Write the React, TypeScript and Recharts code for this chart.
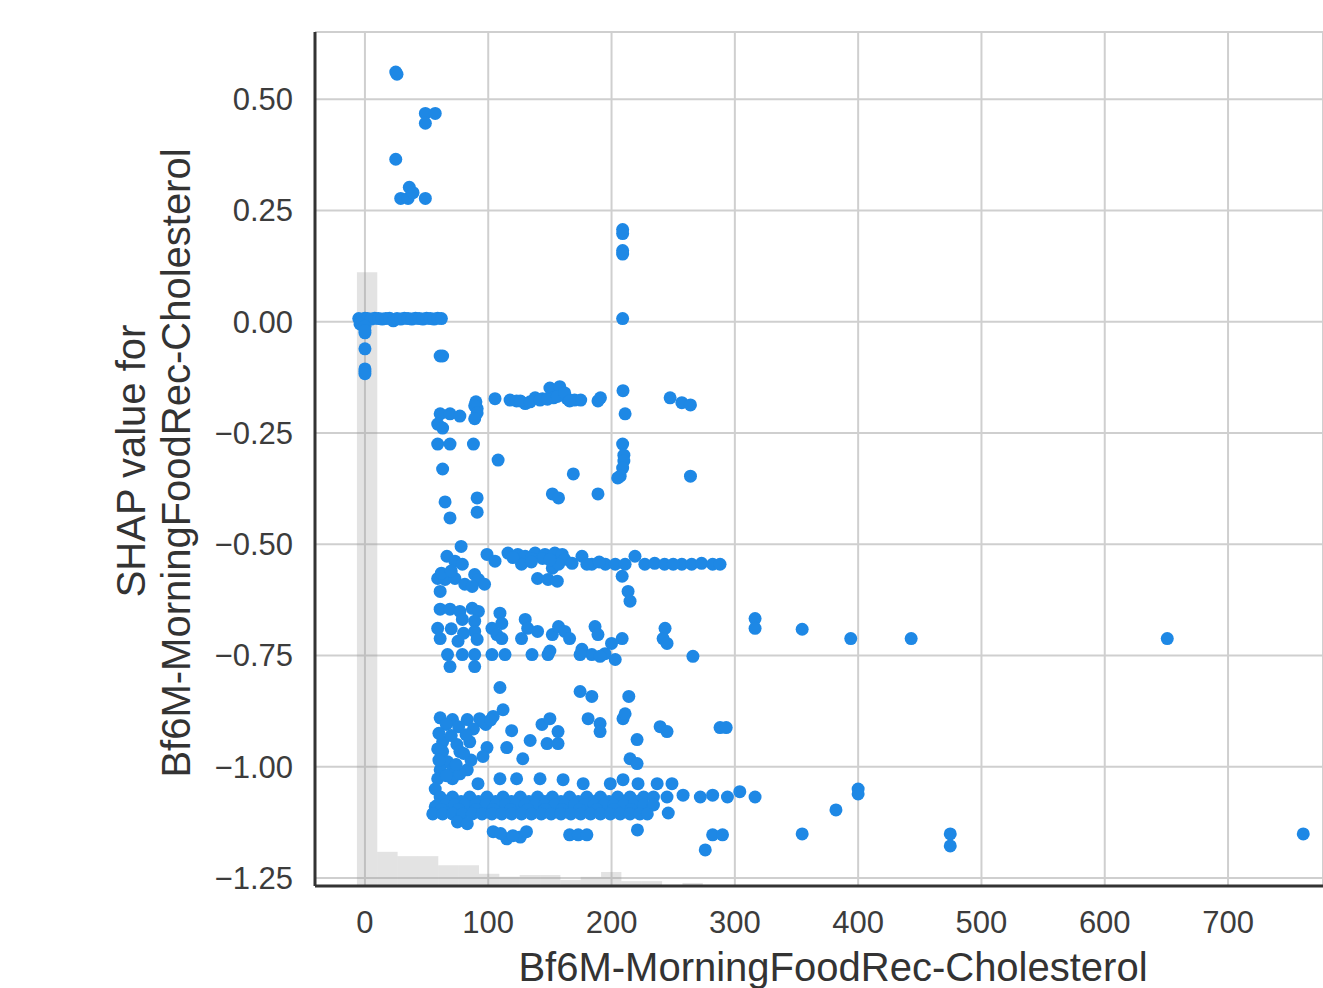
import React from "react"
import {
  ComposedChart,
  Scatter,
  XAxis,
  YAxis,
  CartesianGrid,
  ReferenceArea,
} from "recharts"

// feature value (x) and SHAP value (y) in groups
const topPoints: [number, number][] = [
  [25, 0.561], [26, 0.556], [49, 0.468], [57, 0.468], [49, 0.446], [25, 0.365],
  [36, 0.302], [29, 0.277], [35, 0.277], [49, 0.277], [39, 0.29],
]

const zeroPoints: [number, number][] = [
  [-5, 0.007], [-3, 0.005], [0, 0.008], [0, 0.0], [2, 0.007], [5, 0.006], [8, 0.008],
  [11, 0.007], [14, 0.006], [17, 0.007], [20, 0.008], [23, 0.002], [26, 0.007],
  [29, 0.006], [32, 0.008], [35, 0.007], [38, 0.006], [41, 0.008], [44, 0.007],
  [47, 0.006], [50, 0.008], [53, 0.007], [56, 0.006], [59, 0.008], [62, 0.007],
  [-4, -0.005], [0, -0.01], [0, -0.025], [0, -0.02], [0, -0.061], [0, -0.106],
  [0, -0.112], [0, -0.117], [61, -0.077], [63, -0.077],
  [209, 0.207], [209, 0.198], [209, 0.16], [209, 0.152], [209, 0.007],
]

const upperBandPoints: [number, number][] = [
  [105.5, -0.173], [117.7, -0.176], [123, -0.178], [130, -0.184], [138, -0.171],
  [144, -0.173], [150, -0.149], [153, -0.171], [158, -0.146], [164, -0.173],
  [170, -0.176], [175, -0.176], [189, -0.178], [191, -0.171], [209.3, -0.155],
  [211, -0.207], [247.5, -0.171], [257, -0.182], [264, -0.187], [126, -0.178],
  [134, -0.18], [142, -0.176], [148, -0.174], [156, -0.168], [162, -0.16],
  [166, -0.178], [90, -0.18], [91, -0.195],
  [61, -0.207], [69, -0.207], [77, -0.212], [59, -0.23], [63, -0.239], [89, -0.189],
  [91, -0.205], [89, -0.218], [59, -0.275], [69, -0.275], [88, -0.275], [108, -0.311],
  [63, -0.331], [169, -0.342], [152, -0.387], [157, -0.396], [189, -0.387],
  [65, -0.405], [91, -0.396], [69, -0.441], [91, -0.428], [209, -0.275], [210, -0.3],
  [210, -0.313], [209, -0.329], [207, -0.347], [205, -0.351], [264, -0.347],
]

const midBandPoints: [number, number][] = [
  [78, -0.505], [66.5, -0.527], [73, -0.538], [79, -0.545], [59, -0.577], [65, -0.579],
  [73, -0.577], [81, -0.59], [89, -0.568], [92, -0.579], [97, -0.59], [87, -0.595],
  [61, -0.606], [99, -0.523], [105.5, -0.538], [116, -0.52], [124, -0.523],
  [130, -0.527], [138, -0.52], [146, -0.523], [154, -0.52], [160, -0.523],
  [162, -0.534], [168, -0.543], [176, -0.527], [184, -0.545], [195, -0.545],
  [203, -0.545], [211, -0.545], [219, -0.527], [227, -0.545], [235, -0.543],
  [243, -0.545], [257, -0.545], [265, -0.545], [273, -0.543], [282, -0.545],
  [127, -0.545], [152, -0.554], [157, -0.545], [140, -0.577], [148.5, -0.579],
  [156, -0.583], [208.6, -0.572], [213.4, -0.606], [215, -0.628], [144, -0.532],
  [135, -0.532], [120, -0.53], [150, -0.535], [135, -0.54], [180, -0.545],
  [190, -0.54], [250, -0.545], [288, -0.545], [62, -0.565], [70, -0.56],
]

const lowMidPoints: [number, number][] = [
  [61, -0.646], [69, -0.646], [77, -0.651], [87, -0.644], [92, -0.651], [79, -0.669],
  [89, -0.673], [109.5, -0.655], [59, -0.689], [61, -0.712], [75.5, -0.718],
  [89, -0.696], [91, -0.714], [103, -0.689], [107, -0.703], [111, -0.678],
  [111, -0.712], [130, -0.669], [132, -0.689], [127, -0.712], [140, -0.696],
  [152, -0.703], [157, -0.685], [162, -0.696], [166, -0.712], [186.6, -0.685],
  [189, -0.703], [208.6, -0.712], [243.4, -0.689], [241.8, -0.712], [266, -0.752],
  [67, -0.748], [79, -0.748], [89, -0.748], [103, -0.748], [113.6, -0.748],
  [135.5, -0.748], [148.5, -0.748], [176, -0.736], [184, -0.748], [194.7, -0.746],
  [203, -0.759], [69, -0.775], [89, -0.775], [200, -0.723], [245, -0.723],
  [190.7, -0.752], [174.5, -0.748], [150, -0.74], [70, -0.69], [80, -0.7],
  [316.4, -0.667], [316.4, -0.689], [354.6, -0.691], [394, -0.712], [443, -0.712],
  [650.7, -0.712],
]

const nearOnePoints: [number, number][] = [
  [109.5, -0.822], [174.5, -0.831], [184, -0.842], [214, -0.842], [112, -0.872],
  [61, -0.89], [71, -0.894], [83, -0.894], [93, -0.892], [104, -0.887],
  [143.6, -0.905], [150, -0.892], [181, -0.892], [190.7, -0.903], [209.3, -0.892],
  [211, -0.881], [239.4, -0.91], [245, -0.921], [288, -0.912], [293, -0.912],
  [119, -0.919], [156.6, -0.921], [190.7, -0.921], [220.7, -0.939], [63, -0.944],
  [74.6, -0.95], [85, -0.944], [99, -0.957], [115, -0.957], [134, -0.941],
  [147.7, -0.948], [156.6, -0.948], [63, -0.966], [77, -0.966], [95.7, -0.977],
  [128, -0.982], [215, -0.982], [220.7, -0.993], [67, -0.989], [61, -1.007],
  [71, -1.007], [83, -1.007], [59, -1.027], [71, -1.027], [77, -1.016], [59, -0.96],
  [66, -0.905], [76, -0.91], [88, -0.915], [98, -0.905], [60, -0.925], [70, -0.93],
  [82, -0.928], [60, -0.985], [74, -0.995], [86, -0.985], [66, -1.02], [80, -0.97],
  [96, -0.9], [102, -0.895],
]

const bottomBandPoints: [number, number][] = [
  [91.7, -1.038], [109.5, -1.027], [123, -1.027], [142, -1.027], [160.7, -1.029],
  [177, -1.038], [199, -1.038], [209.3, -1.029], [221.5, -1.038], [237, -1.038],
  [249, -1.038], [304, -1.056], [316.4, -1.068], [400, -1.05], [400, -1.061],
  [382, -1.097], [57, -1.05], [57, -1.09], [58, -1.1],
  [61, -1.068], [71, -1.068], [85, -1.068], [99, -1.068], [112, -1.068],
  [126, -1.068], [140, -1.068], [152, -1.068], [166, -1.068], [180, -1.068],
  [191, -1.068], [205, -1.068], [215, -1.068], [226, -1.068], [234, -1.068],
  [245, -1.068], [258, -1.064], [272, -1.068], [282, -1.064], [294, -1.068],
  [66, -1.078], [78, -1.078], [92, -1.078], [106, -1.078], [119, -1.078],
  [133, -1.078], [146, -1.078], [159, -1.078], [173, -1.078], [186, -1.078],
  [198, -1.078], [210, -1.078], [221, -1.078],
  [59, -1.086], [65, -1.086], [73, -1.086], [81, -1.086], [90, -1.086], [98, -1.086],
  [106, -1.086], [114, -1.086], [122, -1.086], [130, -1.086], [138, -1.086],
  [146, -1.086], [154, -1.086], [162, -1.086], [170, -1.086], [178, -1.086],
  [186, -1.086], [194, -1.086], [202, -1.086], [210, -1.086], [218, -1.086],
  [226, -1.086], [234, -1.086],
  [62, -1.096], [76, -1.096], [90, -1.096], [104, -1.096], [118, -1.096],
  [132, -1.096], [146, -1.096], [160, -1.096], [174, -1.096], [188, -1.096],
  [202, -1.096], [216, -1.096],
  [55, -1.106], [63, -1.106], [71, -1.106], [79, -1.106], [87, -1.106], [95, -1.106],
  [103, -1.106], [111, -1.106], [119, -1.106], [127, -1.106], [135, -1.106],
  [143, -1.106], [151, -1.106], [159, -1.106], [167, -1.106], [175, -1.106],
  [183, -1.106], [191, -1.106], [199, -1.106], [207, -1.106], [215, -1.106],
  [223, -1.106], [229, -1.106], [246, -1.104],
  [75, -1.124], [83, -1.128],
  [104, -1.146], [115, -1.162], [126, -1.158], [131, -1.146], [166, -1.153],
  [173, -1.153], [180, -1.153], [221, -1.142], [282, -1.153], [290, -1.153],
  [276, -1.187], [120, -1.155], [110, -1.15],
  [354.6, -1.151], [474.7, -1.151], [474.7, -1.178], [761, -1.151],
]

// background histogram of the feature
const histEdges = [
  -6.5, 10, 26.5, 43, 59.5, 76, 92.5, 109, 125.5, 142, 158.5, 175, 191.5, 208,
  224.5, 241, 257.5, 274,
]
const histCounts = [1006, 56, 49, 49, 34, 34, 20, 15, 18, 18, 10, 15, 23, 8, 8, 0, 5]

const featureTicks = [0, 100, 200, 300, 400, 500, 600, 700]
const shapTicks = [0.5, 0.25, 0, -0.25, -0.5, -0.75, -1, -1.25]

const Y_MIN = -1.268
const Y_MAX = 0.651
// histogram counts are drawn on the SHAP axis, with this many counts filling the full height
const HIST_FULL = 1400
const histY = (c: number) => Y_MIN + (c / HIST_FULL) * (Y_MAX - Y_MIN)

const points = [
  ...topPoints,
  ...zeroPoints,
  ...upperBandPoints,
  ...midBandPoints,
  ...lowMidPoints,
  ...nearOnePoints,
  ...bottomBandPoints,
].map(([x, y]) => ({ x, y }))

const FONT = '"Liberation Sans", Arial, sans-serif'
const BLUE = "#1E88E5"

const Dot = (props: any) => <circle cx={props.cx} cy={props.cy} r={6.5} fill={BLUE} />

export default function App() {
  return (
    <div style={{ position: "absolute", left: 0, top: 0, width: 1323, height: 988, background: "#fff" }}>
      <ComposedChart
        width={1323}
        height={988}
        margin={{ top: 32, right: 0, bottom: 0, left: 0 }}
        style={{ fontFamily: FONT }}
      >
        <CartesianGrid stroke="#cfcfcf" strokeWidth={2} />
        <XAxis
          type="number"
          dataKey="x"
          domain={[-40.5, 777]}
          ticks={featureTicks}
          allowDataOverflow
          height={102}
          tickLine={false}
          tickSize={0}
          tickMargin={25}
          axisLine={{ stroke: "#333", strokeWidth: 3 }}
          tick={{ fontSize: 31, fill: "#3c3c3c", fontFamily: FONT }}
        />
        <YAxis
          type="number"
          dataKey="y"
          domain={[Y_MIN, Y_MAX]}
          ticks={shapTicks}
          allowDataOverflow
          width={315}
          tickLine={false}
          tickSize={0}
          tickMargin={22}
          axisLine={{ stroke: "#333", strokeWidth: 3 }}
          tick={{ fontSize: 31, fill: "#3c3c3c", fontFamily: FONT }}
          tickFormatter={(v: number) => v.toFixed(2).replace("-", "\u2212")}
        />
        {histCounts.map((c, i) =>
          c > 0 ? (
            <ReferenceArea
              key={`hist-${i}`}
              x1={histEdges[i]}
              x2={histEdges[i + 1]}
              y1={Y_MIN}
              y2={histY(c)}
              fill="#9a9a9a"
              fillOpacity={0.28}
              stroke="none"
              ifOverflow="visible"
            />
          ) : null
        )}
        <Scatter data={points} fill={BLUE} shape={Dot} isAnimationActive={false} />
        <text x={833} y={981} textAnchor="middle" fontSize={40} fill="#333" fontFamily={FONT}>
          Bf6M-MorningFoodRec-Cholesterol
        </text>
        <text transform="translate(145, 461) rotate(-90)" textAnchor="middle" fontSize={40} fill="#333" fontFamily={FONT}>
          SHAP value for
        </text>
        <text transform="translate(190, 463) rotate(-90)" textAnchor="middle" fontSize={40} fill="#333" fontFamily={FONT}>
          Bf6M-MorningFoodRec-Cholesterol
        </text>
      </ComposedChart>
    </div>
  )
}
